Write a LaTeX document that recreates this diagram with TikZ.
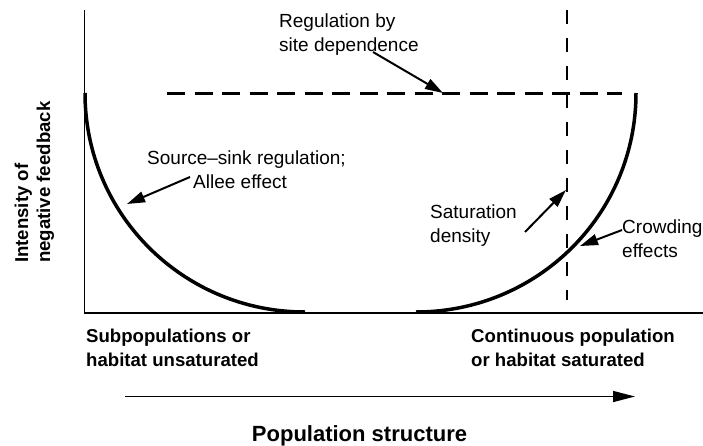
\documentclass[tikz,border=0pt]{standalone}
\usepackage{fontspec}
\setmainfont{Liberation Sans}
\usetikzlibrary{arrows.meta}
\tikzset{
  lbl/.style={font=\fontsize{19}{24}\selectfont, inner sep=0pt, anchor=base west},
  blbl/.style={font=\fontsize{18.6}{24}\selectfont\bfseries, inner sep=0pt, anchor=base west},
  ttl/.style={font=\fontsize{22}{26}\selectfont\bfseries, inner sep=0pt, anchor=base},
  axisline/.style={line width=1.5pt},
  ucurve/.style={line width=3.5pt},
  hdash/.style={line width=3.5pt, dash pattern=on 18pt off 9.5pt},
  vdash/.style={line width=2pt, dash pattern=on 14pt off 14pt},
  pointer/.style={line width=2pt, -{Triangle[length=18pt,width=11pt]}},
  bigarrow/.style={line width=1.5pt, -{Triangle[length=22pt,width=11pt]}}
}
\begin{document}
\begin{tikzpicture}[x=1pt,y=-1pt]
\useasboundingbox (0,0) rectangle (703,445);
% axes
\coordinate (ytop) at (84.5,10);
\coordinate (origin) at (84.5,313);
\coordinate (xend) at (703,313);
\draw[axisline] (ytop) -- (origin) -- (xend);
% U-shaped curve
\coordinate (la) at (85,93);
\coordinate (lb) at (305,312);
\coordinate (ra) at (416,312);
\coordinate (rb) at (636,93);
\draw[ucurve] (la) .. controls (85,214.5) and (183.5,312) .. (lb);
\draw[ucurve] (ra) .. controls (537.5,312) and (636,214.5) .. (rb);
% dashed lines
\coordinate (hd1) at (167,93.5);
\coordinate (hd2) at (622,93.5);
\draw[hdash] (hd1) -- (hd2);
\coordinate (vd1) at (566.5,10);
\coordinate (vd2) at (566.5,300);
\draw[vdash] (vd1) -- (vd2);
% labels
\node[lbl] (reg1) at (279,27) {Regulation by};
\node[lbl] (reg2) at (279,51) {site dependence};
\node[lbl] (src1) at (147,164) {Source--sink regulation;};
\node[lbl] (src2) at (193,188) {Allee effect};
\node[lbl] (sat1) at (430,218.5) {Saturation};
\node[lbl] (sat2) at (430,242.5) {density};
\node[lbl] (cr1) at (622,233) {Crowding};
\node[lbl] (cr2) at (622,257) {effects};
\node[blbl] (sub1) at (86,342) {Subpopulations or};
\node[blbl] (sub2) at (86,366) {habitat unsaturated};
\node[blbl] (con1) at (471,342) {Continuous population};
\node[blbl] (con2) at (471,366) {or habitat saturated};
\node[ttl] (title) at (359.5,441) {Population structure};
\node[blbl, rotate=90] (yl1) at (28,263) {Intensity of};
\node[blbl, rotate=90] (yl2) at (50,263) {negative feedback};
% pointers
\coordinate (regT) at (373,52);
\coordinate (regH) at (443,93);
\draw[pointer] (regT) -- (regH);
\coordinate (srcT) at (190,177);
\coordinate (srcH) at (127,204);
\draw[pointer] (srcT) -- (srcH);
\coordinate (satT) at (525,232);
\coordinate (satH) at (566,190);
\draw[pointer] (satT) -- (satH);
\coordinate (crT) at (622,230);
\coordinate (crH) at (580,246);
\draw[pointer] (crT) -- (crH);
% population structure arrow
\coordinate (pa1) at (125,396.5);
\coordinate (pa2) at (635,396.5);
\draw[bigarrow] (pa1) -- (pa2);
\end{tikzpicture}
\end{document}
